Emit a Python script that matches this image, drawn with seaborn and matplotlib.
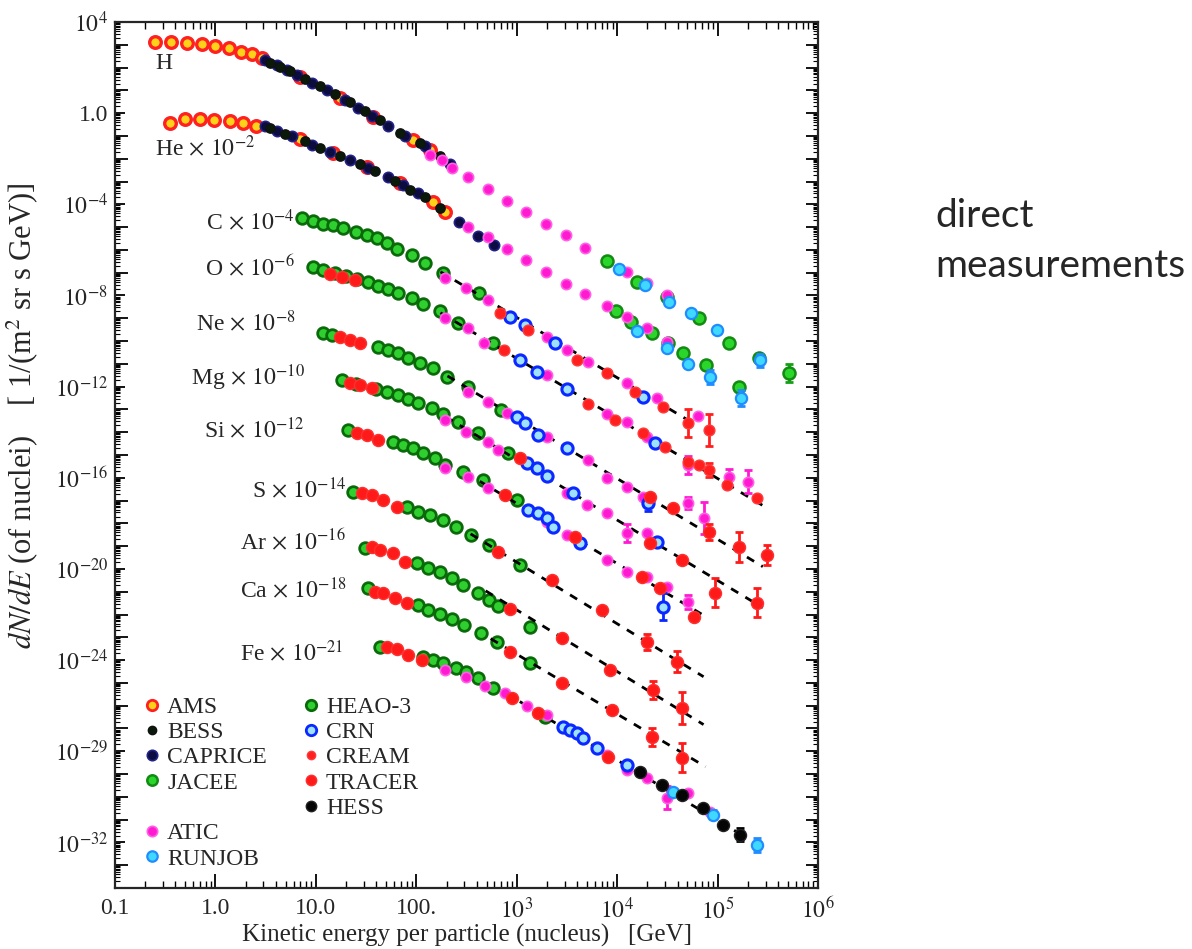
import numpy as np
import pandas as pd
import matplotlib
matplotlib.use('Agg')
import matplotlib.pyplot as plt
import matplotlib.ticker as ticker
from matplotlib.lines import Line2D
import seaborn as sns

# all values are log10(E / GeV) and log10(scaled flux)

# --- H ---
h_ams_lgE = [-0.60, -0.44, -0.28, -0.13, 0.00, 0.13, 0.25, 0.36, 0.46, 0.84, 1.24, 1.57, 1.97, 2.14]
h_ams_lgF = [3.12, 3.12, 3.08, 3.04, 2.95, 2.86, 2.68, 2.60, 2.42, 1.59, 0.67, -0.17, -1.18, -1.61]
h_bess_lgE = [0.54, 0.64, 0.74, 0.89, 1.04, 1.19, 1.34, 1.49, 1.64, 1.84, 2.04, 2.24]
h_bess_lgF = [2.20, 2.03, 1.85, 1.50, 1.19, 0.84, 0.49, 0.10, -0.30, -0.87, -1.31, -1.88]
h_cap_lgE = [0.49, 0.61, 0.71, 0.81, 0.96, 1.11, 1.29, 1.42, 1.56, 1.72, 1.89, 2.09, 2.34]
h_cap_lgF = [2.33, 2.11, 1.89, 1.68, 1.32, 1.02, 0.58, 0.23, -0.12, -0.56, -1.00, -1.44, -2.23]
h_atic_lgE = [2.14, 2.26, 2.36, 2.51, 2.71, 2.90, 3.09, 3.29, 3.49, 3.68, 4.10, 4.30, 4.50]
h_atic_lgF = [-1.83, -2.05, -2.40, -2.80, -3.32, -3.85, -4.33, -4.86, -5.34, -5.91, -6.96, -7.45, -7.97]
h_jacee_lgE = [3.90, 4.20, 4.50, 4.81, 5.11, 5.41, 5.71]
h_jacee_lgF = [-6.48, -7.40, -8.06, -8.98, -10.08, -10.74, -11.39]
h_jacee_err = [0, 0, 0, 0, 0, 0.15, 0.4]
h_runjob_lgE = [4.02, 4.28, 4.52, 4.73, 4.99, 5.42]
h_runjob_lgF = [-6.83, -7.54, -8.28, -8.76, -9.51, -10.85]
h_runjob_err = [0, 0, 0, 0, 0, 0.3]

# --- He x 1e-2 ---
he_ams_lgE = [-0.45, -0.30, -0.15, -0.01, 0.14, 0.27, 0.40, 0.84, 1.17, 1.51, 1.84, 2.17, 2.29]
he_ams_lgF = [-0.43, -0.25, -0.25, -0.30, -0.34, -0.43, -0.56, -1.13, -1.75, -2.36, -3.06, -3.89, -4.33]
he_ams_err = [0.12, 0, 0, 0, 0, 0, 0, 0, 0, 0, 0, 0, 0]
he_bess_lgE = [0.54, 0.69, 0.89, 1.04, 1.24, 1.44, 1.59, 1.79, 1.94, 2.09, 2.24]
he_bess_lgF = [-0.65, -0.91, -1.22, -1.53, -1.88, -2.23, -2.54, -2.97, -3.37, -3.68, -4.16]
he_cap_lgE = [0.49, 0.61, 0.76, 0.96, 1.14, 1.34, 1.52, 1.72, 1.87, 2.02, 2.42, 2.61, 2.77]
he_cap_lgF = [-0.56, -0.78, -1.00, -1.39, -1.70, -2.05, -2.40, -2.80, -3.15, -3.50, -4.77, -5.39, -5.78]
he_atic_lgE = [2.51, 2.71, 2.90, 3.09, 3.29, 3.49, 3.68, 3.90, 4.10, 4.30, 4.50]
he_atic_lgF = [-4.99, -5.43, -5.96, -6.44, -6.96, -7.49, -7.93, -8.46, -8.94, -9.42, -10.04]
he_jacee_lgE = [3.99, 4.14, 4.35, 4.51, 4.66, 4.88, 5.21]
he_jacee_lgF = [-8.68, -9.16, -9.64, -10.08, -10.52, -11.04, -12.01]
he_runjob_lgE = [4.20, 4.50, 4.70, 4.92, 5.23]
he_runjob_lgF = [-9.55, -10.30, -11.00, -11.57, -12.49]
he_runjob_err = [0, 0, 0, 0.3, 0.35]

# --- C x 1e-4 ---
c_heao_lgE = [0.86, 0.97, 1.07, 1.17, 1.27, 1.40, 1.51, 1.61, 1.71, 1.81, 1.96, 2.09, 2.27, 2.62]
c_heao_lgF = [-4.60, -4.73, -4.86, -4.90, -5.04, -5.21, -5.34, -5.47, -5.69, -5.96, -6.22, -6.57, -7.01, -7.89]
c_atic_lgE = [2.29, 2.49, 2.71, 3.30, 3.50, 3.71, 4.10, 4.40, 4.80]
c_atic_lgF = [-7.23, -7.67, -8.19, -9.82, -10.39, -10.91, -11.83, -12.49, -13.28]
c_crn_lgE = [2.93, 3.08, 3.38, 4.26]
c_crn_lgF = [-8.94, -9.29, -10.08, -12.45]
c_cream_lgE = [2.83, 3.11, 3.60, 3.90, 4.18, 4.46, 4.70, 4.91]
c_cream_lgF = [-8.76, -9.51, -10.82, -11.39, -12.23, -12.89, -13.59, -13.89]
c_cream_err = [0, 0, 0, 0, 0, 0, 0.6, 0.7]

# --- O x 1e-6 ---
o_heao_lgE = [0.97, 1.07, 1.19, 1.30, 1.41, 1.52, 1.62, 1.72, 1.82, 1.96, 2.07, 2.24, 2.41, 2.76]
o_heao_lgF = [-6.75, -6.88, -7.01, -7.14, -7.27, -7.40, -7.58, -7.71, -7.89, -8.11, -8.37, -8.68, -9.20, -10.08]
o_tracer_lgE = [1.14, 1.26, 1.39]
o_tracer_lgF = [-7.05, -7.18, -7.32]
o_cream_lgE = [2.87, 3.71, 3.98, 4.26, 4.48, 4.70, 4.81, 4.91, 5.09, 5.39]
o_cream_lgF = [-10.39, -12.75, -13.46, -14.03, -14.64, -15.30, -15.43, -15.65, -16.31, -16.88]
o_cream_err = [0, 0, 0, 0, 0, 0, 0, 0.3, 0, 0]
o_atic_lgE = [2.29, 2.51, 2.67, 3.30, 3.90, 4.10, 4.30, 4.70, 5.11, 5.30]
o_atic_lgF = [-8.98, -9.42, -10.08, -11.48, -13.19, -13.54, -14.20, -15.43, -15.96, -16.18]
o_atic_err = [0, 0, 0, 0, 0, 0, 0, 0.4, 0.35, 0.5]
o_crn_lgE = [3.03, 3.20, 3.50, 4.38]
o_crn_lgF = [-10.82, -11.35, -12.10, -14.46]

# --- Ne x 1e-8 ---
ne_heao_lgE = [1.07, 1.16, 1.62, 1.72, 1.82, 1.92, 2.04, 2.17, 2.31, 2.51, 2.84]
ne_heao_lgF = [-9.64, -9.73, -10.25, -10.39, -10.52, -10.74, -10.96, -11.18, -11.57, -12.01, -13.02]
ne_tracer_lgE = [1.24, 1.34, 1.44, 4.33, 4.56, 4.91, 5.21, 5.49]
ne_tracer_lgF = [-9.82, -9.95, -10.08, -16.83, -17.32, -18.37, -19.03, -19.38]
ne_tracer_err = [0, 0, 0, 0, 0, 0.35, 0.65, 0.45]
ne_atic_lgE = [2.51, 2.71, 2.90, 3.30, 3.71, 3.90, 4.10, 4.26, 4.70, 4.86]
ne_atic_lgF = [-12.23, -12.67, -13.15, -14.20, -15.21, -16.00, -16.39, -16.83, -17.10, -17.75]
ne_atic_err = [0, 0, 0, 0, 0, 0, 0, 0, 0.25, 0.7]
ne_crn_lgE = [3.00, 3.08, 3.21, 3.50, 4.31]
ne_crn_lgF = [-13.32, -13.59, -14.11, -14.68, -17.10]
ne_crn_err = [0, 0, 0, 0, 0.35]

# --- Mg x 1e-10 ---
mg_heao_lgE = [1.26, 1.40, 1.60, 1.71, 1.82, 1.92, 2.02, 2.16, 2.27, 2.41, 2.61, 2.91]
mg_heao_lgF = [-11.70, -11.88, -12.10, -12.23, -12.36, -12.54, -12.71, -12.93, -13.19, -13.54, -14.03, -14.90]
mg_tracer_lgE = [1.34, 1.44, 1.56, 3.03, 4.33, 4.65, 4.97, 5.39]
mg_tracer_lgF = [-11.83, -11.92, -12.05, -15.12, -18.85, -19.60, -21.04, -21.48]
mg_tracer_err = [0, 0, 0, 0, 0, 0, 0.65, 0.65]
mg_atic_lgE = [2.29, 2.49, 2.71, 2.81, 3.50, 3.70, 3.90, 4.10, 4.30]
mg_atic_lgF = [-13.46, -13.98, -14.42, -14.77, -16.66, -17.18, -17.54, -18.41, -18.41]
mg_atic_err = [0, 0, 0, 0, 0, 0, 0, 0.4, 0]
mg_crn_lgE = [3.10, 3.20, 3.30, 3.56, 4.40]
mg_crn_lgF = [-15.34, -15.56, -15.92, -16.66, -18.81]

# --- Si x 1e-12 ---
si_heao_lgE = [1.32, 1.77, 1.87, 1.97, 2.07, 2.19, 2.29, 2.46, 2.66, 3.00]
si_heao_lgF = [-13.89, -14.42, -14.55, -14.68, -14.90, -15.12, -15.43, -15.74, -16.09, -16.96]
si_tracer_lgE = [1.41, 1.51, 1.62, 2.88, 3.58, 4.25, 4.43, 4.76]
si_tracer_lgF = [-14.03, -14.11, -14.33, -16.75, -18.59, -20.34, -20.82, -22.10]
si_atic_lgE = [2.29, 2.51, 2.71, 3.30, 3.50, 3.90, 4.10, 4.30, 4.50, 4.70]
si_atic_lgF = [-15.56, -15.96, -16.44, -17.93, -18.50, -19.60, -20.12, -20.34, -20.78, -21.44]
si_atic_err = [0, 0, 0, 0, 0, 0, 0, 0, 0, 0.3]
si_crn_lgE = [3.11, 3.21, 3.30, 3.36, 3.63, 4.46]
si_crn_lgF = [-17.40, -17.54, -17.75, -18.15, -18.85, -21.66]
si_crn_err = [0, 0, 0, 0, 0, 0.6]

# --- S x 1e-14 ---
s_heao_lgE = [1.37, 1.91, 2.02, 2.14, 2.27, 2.39, 2.54, 2.72, 3.03]
s_heao_lgF = [-16.61, -17.27, -17.49, -17.62, -17.84, -18.15, -18.50, -18.94, -19.82]
s_tracer_lgE = [1.46, 1.56, 1.67, 1.81, 2.81, 3.35, 3.85, 4.30, 4.60]
s_tracer_lgF = [-16.66, -16.75, -16.96, -17.27, -19.25, -20.47, -21.79, -23.19, -24.07]
s_tracer_err = [0, 0, 0, 0, 0, 0, 0, 0.35, 0.45]

# --- Ar x 1e-16 ---
ar_heao_lgE = [1.49, 2.01, 2.12, 2.24, 2.36, 2.46, 2.61, 2.72, 2.81, 3.13]
ar_heao_lgF = [-19.07, -19.73, -19.95, -20.12, -20.39, -20.69, -21.04, -21.35, -21.61, -22.54]
ar_tracer_lgE = [1.56, 1.64, 1.77, 1.89, 2.93, 3.45, 3.93, 4.36, 4.65]
ar_tracer_lgF = [-19.03, -19.16, -19.29, -19.68, -21.75, -23.02, -24.42, -25.30, -26.09]
ar_tracer_err = [0, 0, 0, 0, 0, 0, 0, 0.4, 0.7]

# --- Ca x 1e-18 ---
ca_heao_lgE = [1.52, 2.02, 2.12, 2.24, 2.36, 2.47, 2.64, 2.80, 3.13]
ca_heao_lgF = [-20.82, -21.57, -21.79, -21.96, -22.18, -22.45, -22.80, -23.19, -24.11]
ca_tracer_lgE = [1.59, 1.67, 1.79, 1.91, 2.93, 3.45, 3.95, 4.35, 4.65]
ca_tracer_lgF = [-21.00, -21.04, -21.26, -21.48, -23.63, -24.99, -26.18, -27.36, -28.28]
ca_tracer_err = [0, 0, 0, 0, 0, 0, 0, 0.4, 0.65]

# --- Fe x 1e-21 ---
fe_heao_lgE = [1.64, 2.07, 2.17, 2.27, 2.39, 2.49, 2.61, 2.76, 3.28]
fe_heao_lgF = [-23.41, -23.85, -23.98, -24.11, -24.33, -24.51, -24.77, -25.21, -26.48]
fe_tracer_lgE = [1.71, 1.81, 1.92, 2.06, 2.95, 3.21, 3.91]
fe_tracer_lgF = [-23.41, -23.50, -23.76, -23.98, -25.65, -26.31, -28.24]
fe_atic_lgE = [2.29, 2.49, 2.68, 2.88, 3.10, 3.30, 3.90, 4.10, 4.30, 4.50, 4.70, 4.92]
fe_atic_lgF = [-24.42, -24.73, -25.12, -25.43, -26.00, -26.39, -28.15, -28.81, -29.16, -30.04, -29.82, -30.65]
fe_atic_err = [0, 0, 0, 0, 0, 0, 0, 0, 0, 0.5, 0, 0]
fe_crn_lgE = [3.46, 3.53, 3.60, 3.66, 3.80, 4.10]
fe_crn_lgF = [-26.92, -27.05, -27.18, -27.40, -27.84, -28.59]
fe_runjob_lgE = [4.56, 4.95, 5.39]
fe_runjob_lgF = [-29.77, -30.78, -32.10]
fe_runjob_err = [0, 0.2, 0.3]
fe_hess_lgE = [4.23, 4.45, 4.65, 4.85, 5.05, 5.22]
fe_hess_lgF = [-28.89, -29.46, -29.90, -30.47, -31.22, -31.66]
fe_hess_err = [0, 0, 0, 0, 0, 0.3]

# dashed power-law fits (C, O, Ne, Mg, Si, S, Ar, Ca, Fe)
fit_lgE_lo = [2.24, 2.24, 2.31, 2.29, 2.49, 2.54, 2.69, 2.74, 3.03]
fit_lgE_hi = [4.80, 5.47, 5.45, 5.45, 4.90, 4.86, 4.86, 4.88, 5.27]
fit_lgF_lo = [-6.96, -8.76, -11.53, -13.32, -15.78, -18.46, -20.96, -23.06, -25.82]
fit_lgF_hi = [-13.72, -17.27, -19.90, -21.70, -22.14, -24.73, -26.83, -28.68, -31.75]

# element labels
elem_text = ['H', r'He$\,\times\,10^{-2}$', r'C$\,\times\,10^{-4}$', r'O$\,\times\,10^{-6}$',
             r'Ne$\,\times\,10^{-8}$', r'Mg$\,\times\,10^{-10}$', r'Si$\,\times\,10^{-12}$',
             r'S$\,\times\,10^{-14}$', r'Ar$\,\times\,10^{-16}$', r'Ca$\,\times\,10^{-18}$',
             r'Fe$\,\times\,10^{-21}$']
elem_lgE = [-0.60, -0.60, 0.79, 0.79, 0.80, 0.89, 0.89, 1.30, 1.30, 1.31, 1.27]
elem_lgF = [2.20, -1.53, -4.77, -6.79, -9.20, -11.61, -13.89, -16.54, -18.82, -20.93, -23.67]

xtick_vals = [0.1, 1, 10, 100, 1e3, 1e4, 1e5, 1e6]
xtick_text = ['0.1', '1.0', '10.0', '100.', r'$10^3$', r'$10^4$', r'$10^5$', r'$10^6$']
ytick_vals = [1e4, 1e0, 1e-4, 1e-8, 1e-12, 1e-16, 1e-20, 1e-24, 1e-28, 1e-32]
ytick_text = [r'$10^4$', '1.0', r'$10^{-4}$', r'$10^{-8}$', r'$10^{-12}$', r'$10^{-16}$',
              r'$10^{-20}$', r'$10^{-24}$', r'$10^{-29}$', r'$10^{-32}$']


def frame(series):
    parts = []
    for item in series:
        lgE, lgF = item[0], item[1]
        err = item[2] if len(item) > 2 else [0] * len(lgE)
        parts.append(pd.DataFrame({'E': 10 ** np.array(lgE), 'F': 10 ** np.array(lgF),
                                   'err': np.array(err, dtype=float)}))
    return pd.concat(parts, ignore_index=True)


# experiment -> (series, marker style, errorbar colour)
experiments = [
    ('HEAO-3', [(c_heao_lgE, c_heao_lgF), (o_heao_lgE, o_heao_lgF), (ne_heao_lgE, ne_heao_lgF),
                (mg_heao_lgE, mg_heao_lgF), (si_heao_lgE, si_heao_lgF), (s_heao_lgE, s_heao_lgF),
                (ar_heao_lgE, ar_heao_lgF), (ca_heao_lgE, ca_heao_lgF), (fe_heao_lgE, fe_heao_lgF)],
     dict(s=70, color='#2fcf2f', edgecolor='#0a6a0a', linewidth=2.0), '#0a6a0a'),
    ('JACEE', [(h_jacee_lgE, h_jacee_lgF, h_jacee_err), (he_jacee_lgE, he_jacee_lgF)],
     dict(s=75, color='#2ad62a', edgecolor='#138a13', linewidth=1.8), '#13a013'),
    ('AMS', [(h_ams_lgE, h_ams_lgF), (he_ams_lgE, he_ams_lgF, he_ams_err)],
     dict(s=70, color='#ffd21a', edgecolor='#ff2020', linewidth=2.4), '#ff2020'),
    ('CAPRICE', [(h_cap_lgE, h_cap_lgF), (he_cap_lgE, he_cap_lgF)],
     dict(s=55, color='#0c0c40', edgecolor='#22228a', linewidth=1.2), '#22228a'),
    ('BESS', [(h_bess_lgE, h_bess_lgF), (he_bess_lgE, he_bess_lgF)],
     dict(s=45, color='#0a1a0a', edgecolor='#111111', linewidth=1.0), 'black'),
    ('ATIC', [(h_atic_lgE, h_atic_lgF), (he_atic_lgE, he_atic_lgF), (c_atic_lgE, c_atic_lgF),
              (o_atic_lgE, o_atic_lgF, o_atic_err), (ne_atic_lgE, ne_atic_lgF, ne_atic_err),
              (mg_atic_lgE, mg_atic_lgF, mg_atic_err), (si_atic_lgE, si_atic_lgF, si_atic_err),
              (fe_atic_lgE, fe_atic_lgF, fe_atic_err)],
     dict(s=55, color='#ff1ad2', edgecolor='#ff60e6', linewidth=1.2), '#ff1ad2'),
    ('CRN', [(c_crn_lgE, c_crn_lgF), (o_crn_lgE, o_crn_lgF), (ne_crn_lgE, ne_crn_lgF, ne_crn_err),
             (mg_crn_lgE, mg_crn_lgF), (si_crn_lgE, si_crn_lgF, si_crn_err), (fe_crn_lgE, fe_crn_lgF)],
     dict(s=65, color='#9fe2ff', edgecolor='#0a28ff', linewidth=2.2), '#0a28ff'),
    ('RUNJOB', [(h_runjob_lgE, h_runjob_lgF, h_runjob_err), (he_runjob_lgE, he_runjob_lgF, he_runjob_err),
                (fe_runjob_lgE, fe_runjob_lgF, fe_runjob_err)],
     dict(s=65, color='#3fd9ff', edgecolor='#1f8cff', linewidth=1.6), '#1f8cff'),
    ('CREAM', [(c_cream_lgE, c_cream_lgF, c_cream_err), (o_cream_lgE, o_cream_lgF, o_cream_err)],
     dict(s=60, color='#ff1f1f', edgecolor='#ff3a3a', linewidth=1.0), '#ff1f1f'),
    ('TRACER', [(o_tracer_lgE, o_tracer_lgF), (ne_tracer_lgE, ne_tracer_lgF, ne_tracer_err),
                (mg_tracer_lgE, mg_tracer_lgF, mg_tracer_err), (si_tracer_lgE, si_tracer_lgF),
                (s_tracer_lgE, s_tracer_lgF, s_tracer_err), (ar_tracer_lgE, ar_tracer_lgF, ar_tracer_err),
                (ca_tracer_lgE, ca_tracer_lgF, ca_tracer_err), (fe_tracer_lgE, fe_tracer_lgF)],
     dict(s=75, color='#ff1a1a', edgecolor='#ff3030', linewidth=1.0), '#ff1a1a'),
    ('HESS', [(fe_hess_lgE, fe_hess_lgF, fe_hess_err)],
     dict(s=75, color='#050505', edgecolor='#222222', linewidth=1.0), 'black'),
]

sns.set_style('ticks')
plt.rcParams['font.family'] = ['Liberation Serif', 'DejaVu Serif']
plt.rcParams['mathtext.fontset'] = 'stix'
plt.rcParams['font.size'] = 17

fig = plt.figure(figsize=(11.92, 9.49), dpi=100)
ax = fig.add_axes([0.0965, 0.0643, 0.5898, 0.9125])
ax.set_xscale('log')
ax.set_yscale('log')

z = 3
for name, series, style, ecol in experiments:
    df = frame(series)
    sns.scatterplot(data=df, x='E', y='F', ax=ax, legend=False, zorder=z, **style)
    eb = df[df['err'] > 0]
    if len(eb):
        lo = eb['F'] - eb['F'] * 10 ** (-eb['err'])
        hi = eb['F'] * 10 ** eb['err'] - eb['F']
        ax.errorbar(eb['E'], eb['F'], yerr=[lo, hi], fmt='none', ecolor=ecol,
                    elinewidth=2.0, capsize=3, capthick=2.0, zorder=z - 0.5)
    z += 1
    if name == 'HEAO-3':
        # dashed fits sit just above the HEAO points
        for i in range(len(fit_lgE_lo)):
            sns.lineplot(x=[10 ** fit_lgE_lo[i], 10 ** fit_lgE_hi[i]],
                         y=[10 ** fit_lgF_lo[i], 10 ** fit_lgF_hi[i]],
                         ax=ax, color='black', linewidth=2.0, linestyle=(0, (3, 3)),
                         estimator=None, sort=False, zorder=z)
        z += 1

for t, lx, ly in zip(elem_text, elem_lgE, elem_lgF):
    ax.text(10 ** lx, 10 ** ly, t, fontsize=17, va='center',
            ha='left' if lx < 0 else 'right')

ax.set_xlim(0.1, 1e6)
ax.set_ylim(1e-34, 1e4)

ax.xaxis.set_major_locator(ticker.FixedLocator(xtick_vals))
ax.xaxis.set_major_formatter(ticker.FixedFormatter(xtick_text))
ax.xaxis.set_minor_locator(ticker.LogLocator(base=10, subs=np.arange(2, 10), numticks=1000))
ax.xaxis.set_minor_formatter(ticker.NullFormatter())

ydec = 10.0 ** np.arange(-34, 5)
ylab = {round(np.log10(v)): t for v, t in zip(ytick_vals, ytick_text)}
ax.yaxis.set_major_locator(ticker.FixedLocator(ydec))
ax.yaxis.set_major_formatter(ticker.FuncFormatter(lambda v, p: ylab.get(int(round(np.log10(v))), '')))
ax.yaxis.set_minor_locator(ticker.LogLocator(base=10, subs=np.arange(2, 10), numticks=1000))
ax.yaxis.set_minor_formatter(ticker.NullFormatter())

ax.tick_params(which='both', direction='in', top=True, right=True, color='black')
ax.tick_params(axis='x', which='major', length=10, width=1.3, pad=7, labelsize=17)
ax.tick_params(axis='x', which='minor', length=5, width=1.0)
ax.tick_params(axis='y', which='major', length=9, width=1.3, pad=5, labelsize=17)
ax.tick_params(axis='y', which='minor', length=3.5, width=0.8)
# labelled decades carry a short red tick on the left axis
for v, tk in zip(ydec, ax.yaxis.get_major_ticks(len(ydec))):
    if int(round(np.log10(v))) in ylab:
        tk.tick1line.set_color('red')
        tk.tick1line.set_markersize(7)

for sp in ax.spines.values():
    sp.set_linewidth(1.6)

ax.set_xlabel('Kinetic energy per particle (nucleus)   [GeV]', fontsize=18)
ax.xaxis.set_label_coords(0.5, -0.042)
ax.set_ylabel(r'$dN/dE$ (of nuclei)    [ 1/(m$^2$ sr s GeV)]', fontsize=22)
ax.yaxis.set_label_coords(-0.107, 0.545)

# legend (blank slots keep ATIC/RUNJOB apart as in the original)
leg_names = ['AMS', 'BESS', 'CAPRICE', 'JACEE', '', 'ATIC', 'RUNJOB',
             'HEAO-3', 'CRN', 'CREAM', 'TRACER', 'HESS', '', '']
style_of = {n: st for n, _, st, _ in experiments}
handles = []
for n in leg_names:
    if n == '':
        handles.append(Line2D([], [], linestyle='', marker=''))
        continue
    st = style_of[n]
    ms = 6 if n in ('CREAM', 'BESS') else 7.5
    handles.append(Line2D([], [], linestyle='', marker='o', markersize=ms,
                          markerfacecolor=st['color'], markeredgecolor=st['edgecolor'],
                          markeredgewidth=min(st['linewidth'], 2.0)))
ax.legend(handles, leg_names, ncol=2, loc='upper left', bbox_to_anchor=(0.039, 0.2214),
          frameon=False, fontsize=17, handlelength=0.8, handletextpad=0.25,
          labelspacing=0.16, columnspacing=1.45, borderpad=0, borderaxespad=0)

fig.text(935 / 1192, 1 - 241 / 949, 'direct\nmeasurements', fontsize=28,
         family=['Lato', 'DejaVu Sans'], va='center', ha='left', linespacing=1.45)

fig.savefig('out.png', dpi=100)
